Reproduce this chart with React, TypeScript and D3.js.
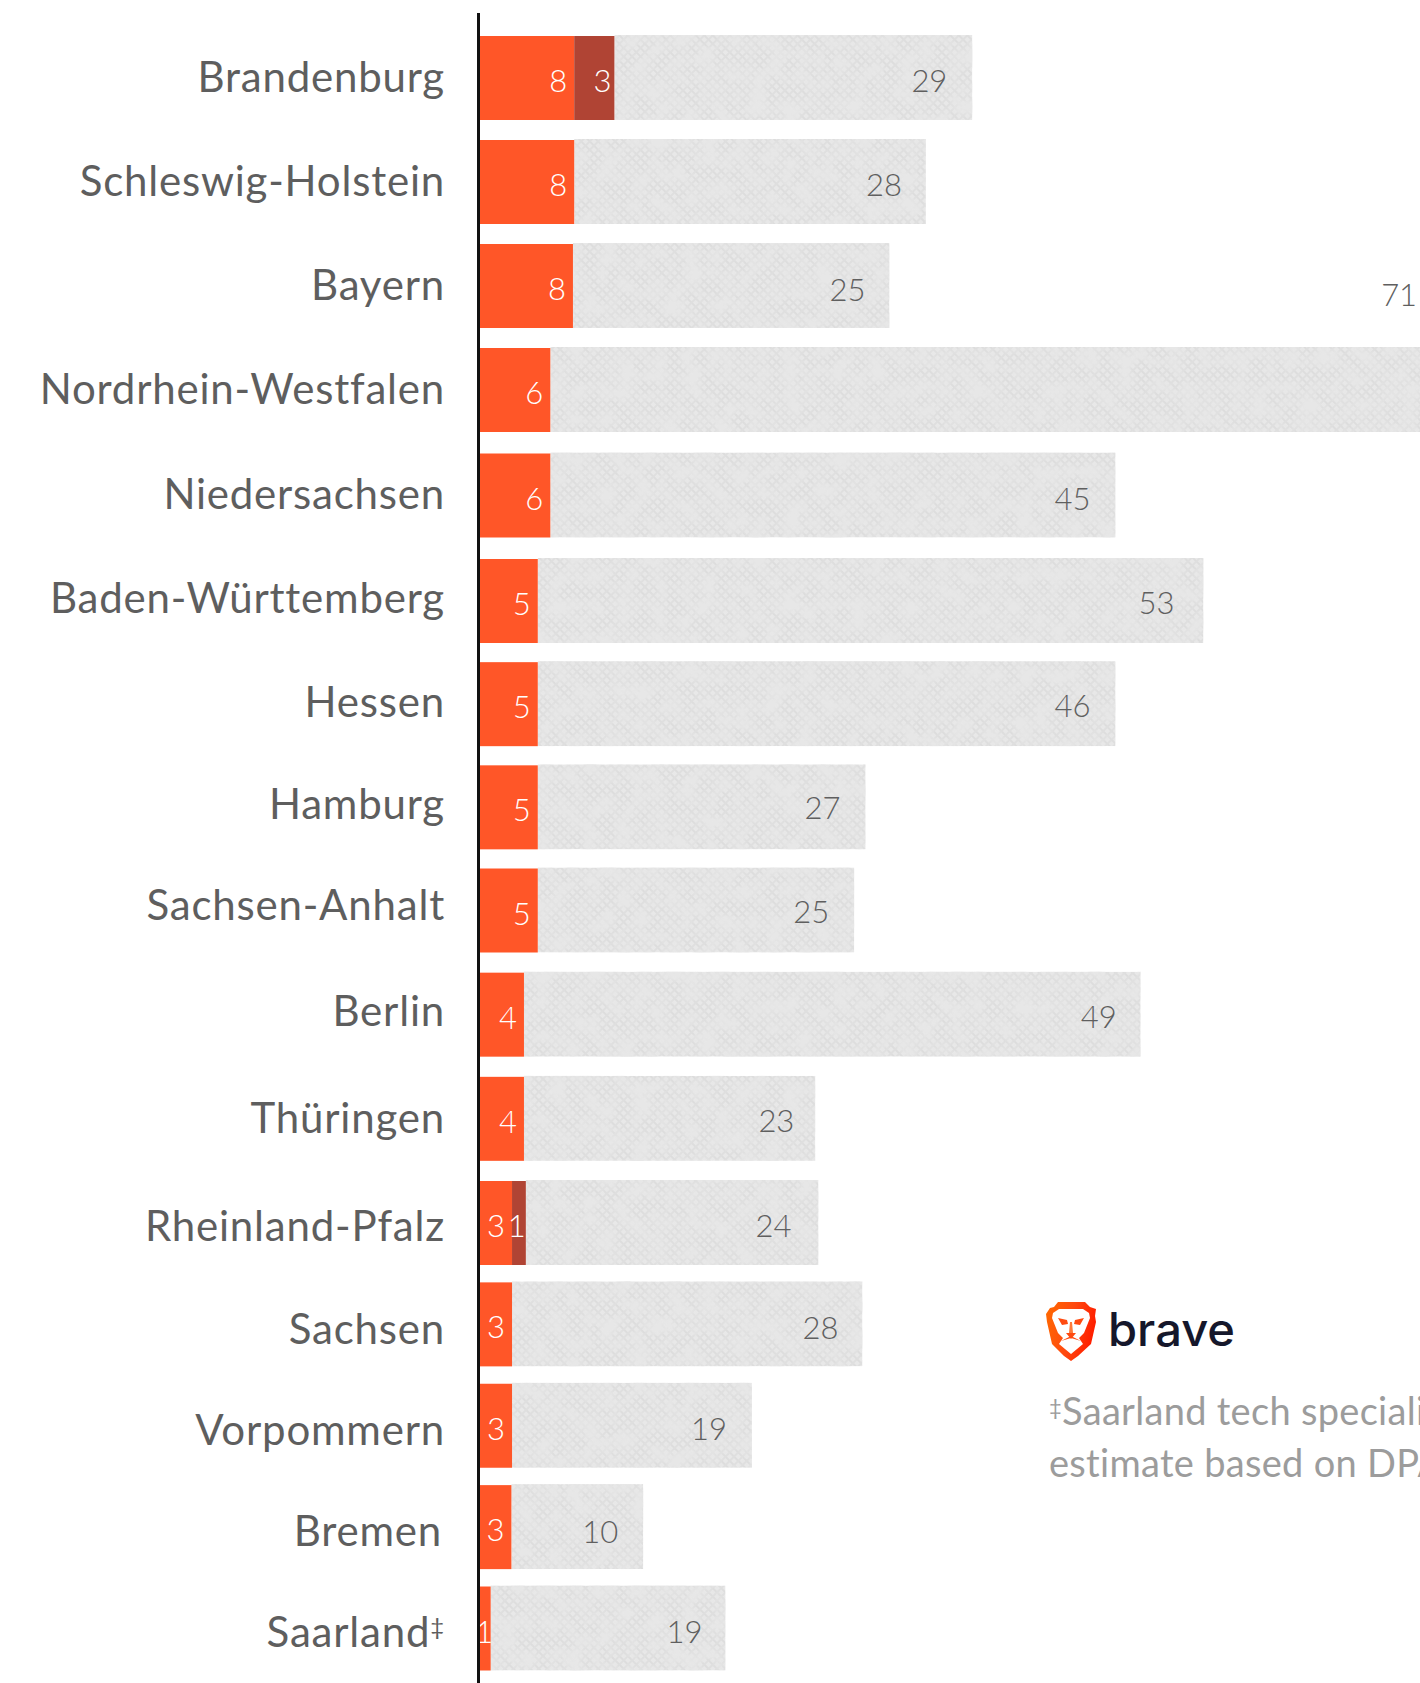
import React from "react";
import * as d3 from "d3";

const categories = ["Brandenburg","Schleswig-Holstein","Bayern","Nordrhein-Westfalen","Niedersachsen","Baden-Württemberg","Hessen","Hamburg","Sachsen-Anhalt","Berlin","Thüringen","Rheinland-Pfalz","Sachsen","Vorpommern","Bremen","Saarland"];
const orangeValues = [7.5,7.5,7.4,5.6,5.6,4.6,4.6,4.6,4.6,3.5,3.5,2.55,2.55,2.55,2.5,0.85];
const darkValues = [3.2,0,0,0,0,0,0,0,0,0,0,1.1,0,0,0,0];
const greyValues = [28.5,28,25.2,71,45,53,46,26.1,25.2,49.1,23.2,23.3,27.9,19.1,10.5,18.7];
const orangeLabels = [8,8,8,6,6,5,5,5,5,4,4,3,3,3,3,1];
const darkLabels = [3,0,0,0,0,0,0,0,0,0,0,1,0,0,0,0];
const greyLabels = [29,28,25,71,45,53,46,27,25,49,23,24,28,19,10,19];

const greyNudgeX = [0,1,1,0,0,-4,0,0,0,1,4,-2,1,0,0,2];
const greyNudgeY = [0,0,1,0,0,-1,-1,-2,-2,-1,-1,0,1,0,2,0];

const FONT = "Lato, 'Open Sans', sans-serif";
const x = d3.scaleLinear().domain([0, 1]).range([480, 492.56]);
const rowTop = d3.scaleLinear().domain([0, 3, 5, 8, 11, 15]).range([36, 348, 559, 868.5, 1181, 1586.5]);
const labelBase = d3.scaleLinear().domain([0, 3, 5, 6, 8, 10, 11, 12, 15]).range([92, 404, 613, 717, 920, 1132.8, 1241.3, 1343.8, 1646.8]);
const BAR_H = 84;

export default function App() {
  return (
    <svg width={1420} height={1683} viewBox="0 0 1420 1683" style={{ position: "absolute", left: 0, top: 0, display: "block", background: "#fff" }}>
      <defs>
        <pattern id="hatch" width={6} height={6} patternUnits="userSpaceOnUse" patternTransform="rotate(45)">
          <rect width={6} height={6} fill="#e8e8e8" />
          <rect width={6} height={2} fill="#dddddd" />
          <rect width={2} height={6} fill="#dfdfdf" />
        </pattern>
        <filter id="grain" x="0" y="0" width="100%" height="100%" colorInterpolationFilters="sRGB">
          <feGaussianBlur in="SourceGraphic" stdDeviation="0.7" result="soft" />
          <feComposite in="soft" in2="SourceAlpha" operator="in" result="clean" />
          <feTurbulence type="fractalNoise" baseFrequency="0.06" numOctaves={3} seed={7} result="n" />
          <feColorMatrix in="n" type="matrix" values="0 0 0 0 0.905  0 0 0 0 0.905  0 0 0 0 0.905  2.4 0 0 0 -0.85" result="w" />
          <feComposite in="w" in2="SourceAlpha" operator="in" result="c" />
          <feMerge>
            <feMergeNode in="clean" />
            <feMergeNode in="c" />
          </feMerge>
        </filter>
        <linearGradient id="shield" x1="0" y1="0" x2="1" y2="0.25">
          <stop offset="0" stopColor="#ff6a00" />
          <stop offset="0.55" stopColor="#ff4a10" />
          <stop offset="1" stopColor="#ff2000" />
        </linearGradient>
      </defs>

      <g filter="url(#grain)">
        {categories.map((c, i) => {
          const x0 = x(orangeValues[i] + darkValues[i]);
          return <rect key={c} x={x0} y={rowTop(i) - 1} width={x(greyValues[i]) - x(0)} height={BAR_H + 1} fill="url(#hatch)" />;
        })}
      </g>

      {categories.map((c, i) => {
        const xO = x(orangeValues[i]);
        const xD = x(orangeValues[i] + darkValues[i]);
        const xG = xD + x(greyValues[i]) - x(0);
        const top = rowTop(i);
        const base = top + 56;
        const nrw = c === "Nordrhein-Westfalen";
        const orangeW = xO - x(0);
        const darkW = xD - xO;
        return (
          <g key={c}>
            <rect x={x(0)} y={top} width={orangeW} height={BAR_H} fill="#ff5628" />
            {darkValues[i] > 0 && <rect x={xO} y={top} width={darkW} height={BAR_H} fill="#b04434" />}
            <g fontFamily={FONT} fontWeight={300} fontSize={31}>
              <text x={orangeW < 20 ? xO + 2.5 : xO - 7} y={base} textAnchor="end" fill="#fff">{orangeLabels[i]}</text>
              {darkValues[i] > 0 && <text x={darkW < 20 ? xD : xD - 3} y={base} textAnchor="end" fill="#fff">{darkLabels[i]}</text>}
              <text x={xG - 25 + greyNudgeX[i]} y={nrw ? top - 42 : base + greyNudgeY[i]} textAnchor="end" fill="#5f5f5f">{greyLabels[i]}</text>
            </g>
            <text x={c === "Bremen" ? 442 : 445} y={labelBase(i)} textAnchor="end" fontFamily={FONT} fontSize={42} letterSpacing={0.8} fill="#5e5e5e">
              {c}
              {c === "Saarland" && <tspan fontSize={24} dy={-12}>‡</tspan>}
            </text>
          </g>
        );
      })}

      <rect x={477} y={13} width={3} height={1670} fill="#111" />

      <g>
        <path d="M1058 1302 L1085 1302 L1090 1307 L1096 1309 L1095 1316 L1096 1322 L1091 1344 L1078 1356 L1071 1361 L1064 1356 L1052 1344 L1047 1322 L1046 1314 L1050 1308 L1054 1307 Z" fill="url(#shield)" />
        <path d="M1059 1309 L1083 1309 L1089 1313 L1090 1318 L1084 1333 L1079 1338 L1083 1344 L1071 1354 L1059 1344 L1063 1338 L1058 1333 L1052 1318 L1053 1313 Z" fill="#fff" />
        <path d="M1058 1318 L1067 1320 L1068 1324 L1062 1325 Z M1084 1318 L1075 1320 L1074 1324 L1080 1325 Z M1066 1333 L1076 1333 L1071 1339 Z" fill="#ff4a10" />
        <path d="M1070 1322 L1072 1322 L1073 1333 L1069 1333 Z" fill="#ff7a3a" />
        <path d="M1061 1341 L1071 1338 L1081 1341 L1071 1336 Z" fill="#ff4a10" />
      </g>
      <text x={1108} y={1346} fontFamily="Inter, sans-serif" fontWeight={500} fontSize={46} fill="#15172b" textLength={127} lengthAdjust="spacingAndGlyphs">brave</text>

      <g fontFamily={FONT} fontSize={38} fill="#9c9c9c" letterSpacing={0.3}>
        <text x={1049} y={1425}><tspan fontSize={22} dy={-10}>‡</tspan><tspan dy={10}>Saarland tech specialist</tspan></text>
        <text x={1049} y={1476.5}>estimate based on DPA</text>
      </g>
    </svg>
  );
}
